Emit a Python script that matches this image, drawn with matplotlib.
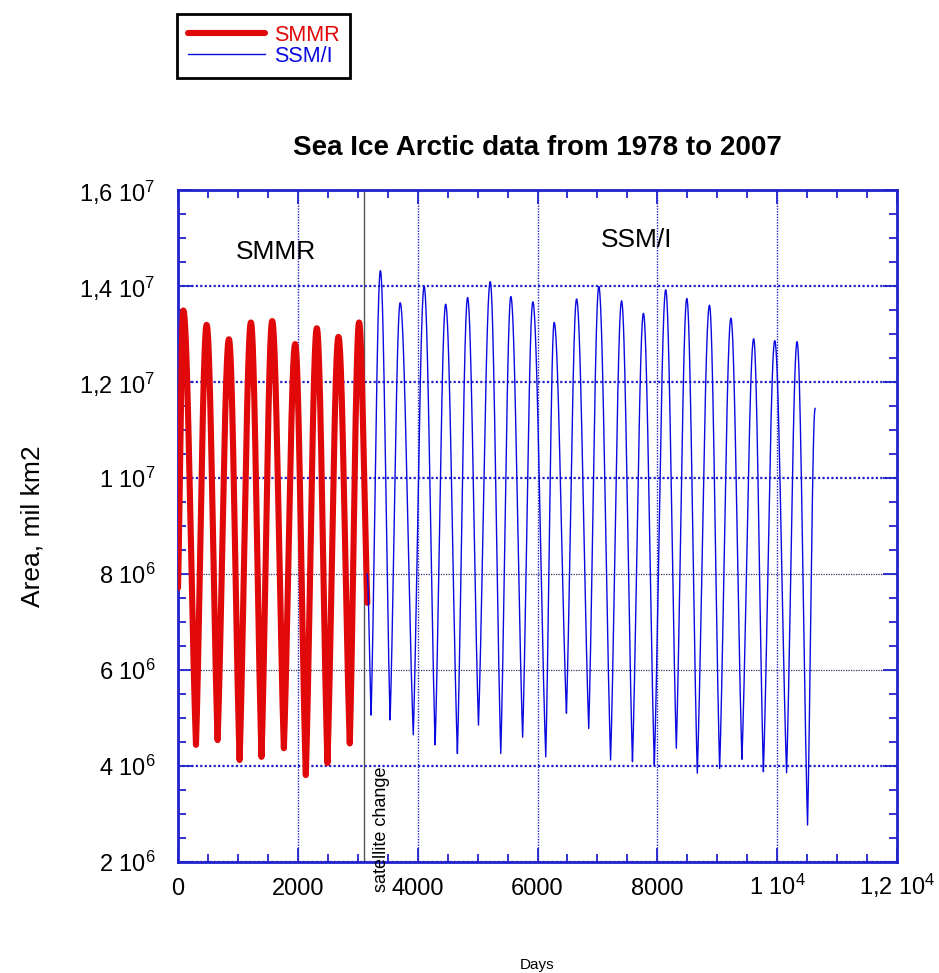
import numpy as np
import matplotlib
matplotlib.use("Agg")
import matplotlib.pyplot as plt
from matplotlib.ticker import MultipleLocator, FixedLocator, FixedFormatter

# ── Fonts ──
plt.rcParams['font.family'] = ['Liberation Sans', 'DejaVu Sans']
plt.rcParams['mathtext.fontset'] = 'custom'
plt.rcParams['mathtext.rm'] = 'Liberation Sans'
plt.rcParams['mathtext.it'] = 'Liberation Sans'
plt.rcParams['mathtext.bf'] = 'Liberation Sans:bold'

# ── Data: seasonal extremes (day, area km2) ──
smmr_days = [0, 89, 300, 478, 661, 850, 1028, 1217, 1394, 1572, 1767,
             1956, 2133, 2317, 2494, 2678, 2867, 3022, 3160]
smmr_area = [7.71e6, 1.349e7, 4.44e6, 1.319e7, 4.54e6, 1.289e7, 4.125e6,
             1.324e7, 4.19e6, 1.327e7, 4.37e6, 1.279e7, 3.81e6, 1.312e7,
             4.06e6, 1.294e7, 4.47e6, 1.324e7, 7.4e6]

ssmi_days = [3156, 3223, 3378, 3540, 3708, 3927, 4108, 4292, 4467, 4663,
             4833, 5015, 5211, 5387, 5555, 5752, 5922, 6138, 6278, 6483,
             6652, 6855, 7023, 7220, 7403, 7585, 7768, 7950, 8140, 8317,
             8492, 8667, 8870, 9040, 9228, 9412, 9608, 9770, 9960, 10157,
             10332, 10507, 10633]
ssmi_area = [8.0e6, 5.06e6, 1.432e7, 4.96e6, 1.365e7, 4.65e6, 1.399e7,
             4.44e6, 1.362e7, 4.26e6, 1.376e7, 4.85e6, 1.409e7, 4.26e6,
             1.378e7, 4.60e6, 1.367e7, 4.19e6, 1.324e7, 5.10e6, 1.373e7,
             4.78e6, 1.399e7, 4.125e6, 1.369e7, 4.09e6, 1.343e7, 4.02e6,
             1.392e7, 4.37e6, 1.374e7, 3.85e6, 1.360e7, 3.95e6, 1.333e7,
             4.14e6, 1.290e7, 3.88e6, 1.286e7, 3.86e6, 1.284e7, 2.77e6,
             1.145e7]

x_ticks = [0, 2000, 4000, 6000, 8000, 10000, 12000]
x_ticklabels = ['0', '2000', '4000', '6000', '8000',
                r'1 10$^{4}$', r'1,2 10$^{4}$']
y_ticks = [2e6, 4e6, 6e6, 8e6, 1e7, 1.2e7, 1.4e7, 1.6e7]
y_ticklabels = [r'2 10$^{6}$', r'4 10$^{6}$', r'6 10$^{6}$', r'8 10$^{6}$',
                r'1 10$^{7}$', r'1,2 10$^{7}$', r'1,4 10$^{7}$', r'1,6 10$^{7}$']

SWITCH_DAY = 3100

RED = '#e00808'
BLUE = '#0a0ae0'
FRAME = '#2222cc'


def seasonal_curve(days, area):
    """Daily curve through the read extremes: rounded at maxima, sharp at minima."""
    xs, ys = [], []
    for (d0, a0), (d1, a1) in zip(zip(days[:-1], area[:-1]), zip(days[1:], area[1:])):
        n = max(int(d1 - d0), 2)
        t = np.linspace(0, 1, n, endpoint=False)
        if a1 < a0:
            f = 1 - np.cos(np.pi * t / 2)
        else:
            f = np.sin(np.pi * t / 2)
        f = 0.5 * f + 0.5 * (1 - np.cos(np.pi * t)) / 2
        xs.append(d0 + (d1 - d0) * t)
        ys.append(a0 + (a1 - a0) * f)
    xs.append([days[-1]])
    ys.append([area[-1]])
    return np.concatenate(xs), np.concatenate(ys)


fig = plt.figure(figsize=(9.39, 9.73), dpi=100)
ax = fig.add_axes([178 / 939, 1 - 862 / 973, 719 / 939, 672 / 973])

sx, sy = seasonal_curve(smmr_days, smmr_area)
bx, by = seasonal_curve(ssmi_days, ssmi_area)

l1, = ax.plot(sx, sy, color=RED, lw=4.4, solid_capstyle='round', label='SMMR', zorder=3)
l2, = ax.plot(bx, by, color=BLUE, lw=1.0, label='SSM/I', zorder=3)

ax.axvline(SWITCH_DAY, color='#555555', lw=1.0, zorder=2)
ax.text(SWITCH_DAY + 300, 4.0e6, 'satellite change', rotation=90,
        ha='center', va='top', fontsize=13, clip_on=False)

ax.text(1633, 1.471e7, 'SMMR', fontsize=19, ha='center', va='center')
ax.text(7650, 1.496e7, 'SSM/I', fontsize=19, ha='center', va='center')

# ── Axes ──
ax.set_xlim(0, 12000)
ax.set_ylim(2e6, 1.6e7)
ax.xaxis.set_major_locator(FixedLocator(x_ticks))
ax.xaxis.set_major_formatter(FixedFormatter(x_ticklabels))
ax.yaxis.set_major_locator(FixedLocator(y_ticks))
ax.yaxis.set_major_formatter(FixedFormatter(y_ticklabels))
ax.xaxis.set_minor_locator(MultipleLocator(500))
ax.yaxis.set_minor_locator(MultipleLocator(5e5))

ax.tick_params(which='both', direction='in', top=True, right=True, color=FRAME, width=1.3)
ax.tick_params(which='major', length=10)
ax.tick_params(which='minor', length=6)
ax.tick_params(axis='x', which='major', labelsize=17, pad=24)
ax.tick_params(axis='y', which='major', labelsize=17, pad=16)
plt.setp(ax.get_xticklabels(), va='baseline')

for sp in ax.spines.values():
    sp.set_color(FRAME)
    sp.set_linewidth(2)

ax.grid(True, axis='x', color=FRAME, linestyle=(0, (1, 1)), lw=1.0)
ax.grid(True, axis='y', color=FRAME, linestyle=(0, (1, 1)), lw=1.6)
for val, gl in zip(y_ticks, ax.get_ygridlines()):
    if val in (6e6, 8e6):
        gl.set_color('#333366')
        gl.set_linewidth(0.9)

ax.set_ylabel('Area, mil km2', fontsize=19)
ax.yaxis.set_label_coords(-0.185, 0.5)
ax.set_xlabel('Days', fontsize=11)
ax.xaxis.set_label_coords(0.5, -0.143)

fig.text(537.5 / 939, 1 - 148 / 973, 'Sea Ice Arctic data from 1978 to 2007',
         ha='center', va='center', fontsize=20, fontweight='bold')

leg = fig.legend(handles=[l1, l2], loc='upper left',
                 bbox_to_anchor=(177 / 939, 1 - 14 / 973), fontsize=15.5,
                 labelcolor='linecolor', fancybox=False, framealpha=1,
                 edgecolor='black', handlelength=3.6, borderpad=0.5,
                 labelspacing=0.0, handletextpad=0.4, borderaxespad=0)
leg.get_frame().set_linewidth(2)

fig.savefig('out.png', dpi=100)
